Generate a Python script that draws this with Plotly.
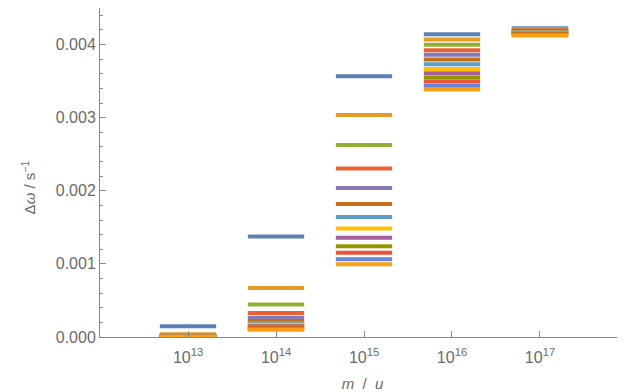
import plotly.graph_objects as go

# Masses (x categories, in u)
masses = [1e13, 1e14, 1e15, 1e16, 1e17]
tick_labels = ["10<sup>13</sup>", "10<sup>14</sup>", "10<sup>15</sup>", "10<sup>16</sup>", "10<sup>17</sup>"]

# Δω values (s^-1) for each mass, series 1..13
dw_1e13 = [0.000148, 0.000036, 0.000022, 0.000016, 0.000013, 0.000011, 0.000010,
           0.000009, 0.000008, 0.0000075, 0.000007, 0.0000065, 0.000006]
dw_1e14 = [0.001374, 0.000671, 0.000443, 0.000327, 0.000262, 0.000220, 0.000190,
           0.000166, 0.000148, 0.000133, 0.000120, 0.000108, 0.000098]
dw_1e15 = [0.003566, 0.003037, 0.002626, 0.002305, 0.002037, 0.001818, 0.001640,
           0.001484, 0.001356, 0.001242, 0.001151, 0.001064, 0.000996]
dw_1e16 = [0.004141, 0.004068, 0.003996, 0.003922, 0.003859, 0.003795, 0.003730,
           0.003667, 0.003607, 0.003548, 0.003493, 0.003438, 0.003384]
dw_1e17 = [0.004222, 0.004213, 0.004204, 0.004195, 0.004186, 0.004177, 0.004168,
           0.004160, 0.004152, 0.004145, 0.004138, 0.004131, 0.004125]

groups = [dw_1e13, dw_1e14, dw_1e15, dw_1e16, dw_1e17]

colors = ["#5E81B5", "#E09C24", "#8FB032", "#EB6235", "#8778B3", "#C56E1A", "#5D9EC7",
          "#FFBF00", "#A5609D", "#929600", "#E95536", "#6685D9", "#F89F13"]

half = 10 ** 0.32  # half-width of each segment in decades

fig = go.Figure()
for k, col in enumerate(colors):
    xs, ys = [], []
    for m, g in zip(masses, groups):
        xs += [m / half, m * half, None]
        ys += [g[k], g[k], None]
    fig.add_trace(go.Scatter(x=xs, y=ys, mode="lines",
                             line=dict(color=col, width=4), showlegend=False,
                             hoverinfo="skip"))

axis_col = "#888888"
text_col = "#6a6a6a"
font = "Liberation Sans, Arial, sans-serif"

fig.update_layout(
    width=617, height=384,
    margin=dict(l=92, r=0, t=0, b=55),
    paper_bgcolor="white", plot_bgcolor="white",
    font=dict(family=font, color=text_col, size=15),
    xaxis=dict(
        type="log", range=[12, 17.966],
        tickvals=masses, ticktext=tick_labels,
        ticks="inside", ticklen=6, tickcolor=axis_col,
        showline=True, linecolor=axis_col, linewidth=1,
        showgrid=False, zeroline=False,
        ticklabelstandoff=6,
        tickfont=dict(size=16, color=text_col),
        title=dict(text="<i>m</i>  /  <i>u</i>", font=dict(size=15, color=text_col), standoff=15),
    ),
    yaxis=dict(
        range=[0, 0.0045],
        tick0=0, dtick=0.001, tickformat=".3f",
        ticks="inside", ticklen=6, tickcolor=axis_col,
        minor=dict(dtick=0.0002, ticks="inside", ticklen=3, tickcolor=axis_col),
        showline=True, linecolor=axis_col, linewidth=1,
        showgrid=False, zeroline=False,
        tickfont=dict(size=16, color=text_col),
    ),
    annotations=[dict(
        text="Δ<i>ω</i> / s<sup>−1</sup>", textangle=-90,
        xref="paper", yref="paper", x=-0.137, y=0.455,
        xanchor="center", yanchor="middle", showarrow=False,
        font=dict(size=15, color=text_col),
    )],
)

fig.write_html("out.html")
